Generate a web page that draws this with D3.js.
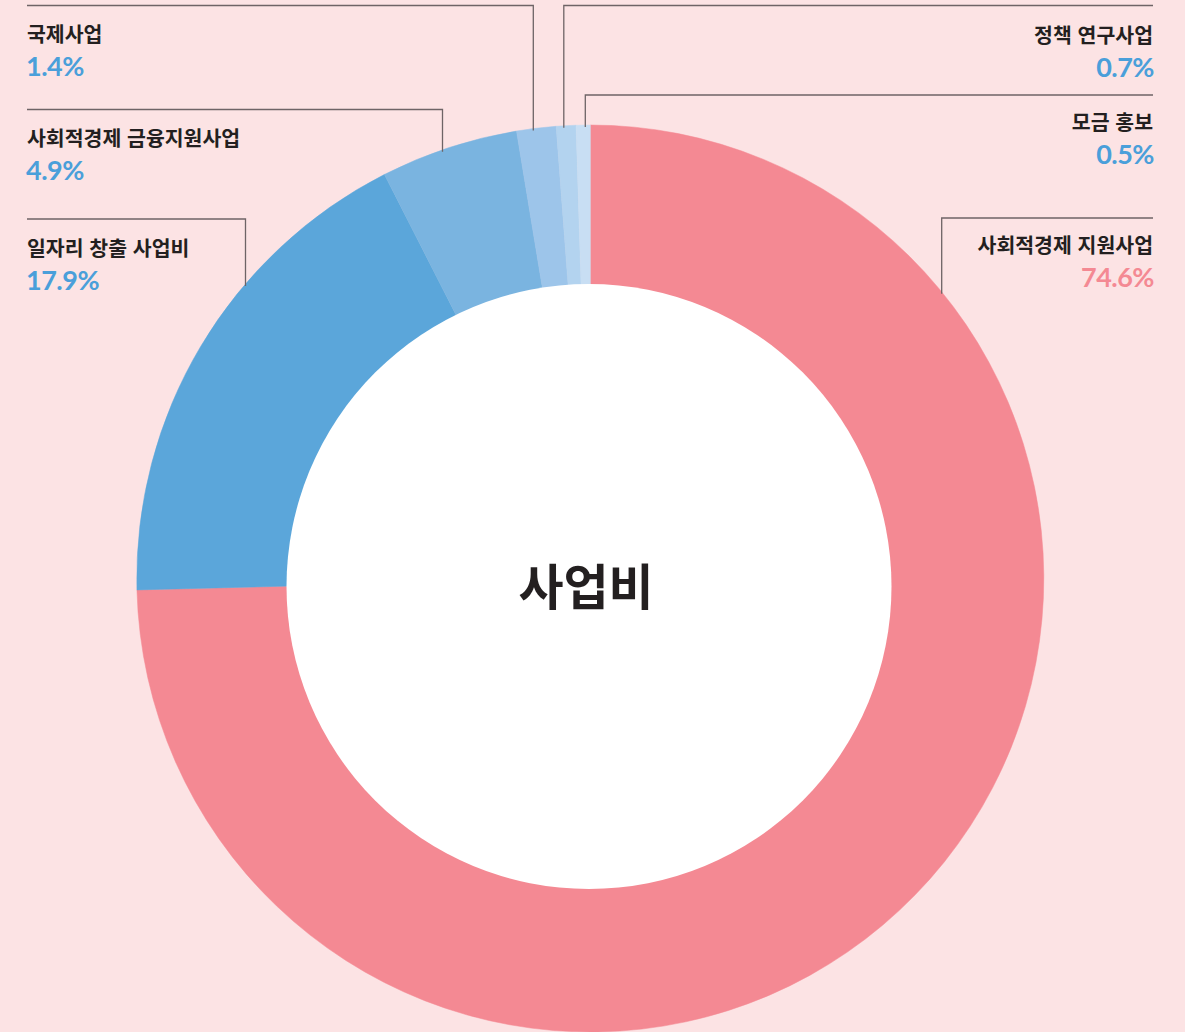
<!DOCTYPE html>
<html lang="ko">
<head>
<meta charset="utf-8">
<script src="https://cdn.jsdelivr.net/npm/d3@7"></script>
<style>
  html, body { margin: 0; padding: 0; background: #FCE3E4; }
  svg { display: block; }
  .name { font-family: "Noto Sans CJK KR", "Noto Sans", sans-serif; font-weight: 700; font-size: 20.5px; fill: #231F20; letter-spacing: 0px; }
  .pct { font-family: Lato, "Open Sans", sans-serif; font-weight: 700; font-size: 27px; letter-spacing: -0.5px; }
  .center { font-family: "Noto Sans CJK KR", sans-serif; font-weight: 700; font-size: 49px; fill: #231F20; }
</style>
</head>
<body>
<svg id="chart" width="1185" height="1032"></svg>
<script>
// 사업비 구성 (%), clockwise from 12 o'clock
const categories = ["사회적경제 지원사업", "일자리 창출 사업비", "사회적경제 금융지원사업", "국제사업", "정책 연구사업", "모금 홍보"];
const values = [74.6, 17.9, 4.9, 1.4, 0.7, 0.5];
const sliceColors = ["#F48993", "#5BA6DA", "#7AB4E0", "#9DC5EA", "#B3D3EF", "#C8DEF3"];
const labelColors = ["#F48993", "#4A9FDA", "#4A9FDA", "#4A9FDA", "#4A9FDA", "#4A9FDA"];
const centerTitle = "사업비";

const W = 1185, H = 1032;
const cx = 590.3, cy = 578.5, rOuter = 453.5;
const hole = { x: 589, y: 586.5, r: 302.5 };

// label placement: side, text x, name baseline, leader y, leader start x, leader corner x
const labelLayout = [
  { anchor: "end",   tx: 1153, ty: 253, ly: 218, lx0: 1153, lx1: 941.7 },
  { anchor: "start", tx: 27,   ty: 256, ly: 219, lx0: 27,   lx1: 245.5 },
  { anchor: "start", tx: 27,   ty: 146, ly: 109.5, lx0: 27, lx1: 442.5 },
  { anchor: "start", tx: 27,   ty: 42,  ly: 5.5, lx0: 27,   lx1: 533.3 },
  { anchor: "end",   tx: 1153, ty: 43,  ly: 5.5, lx0: 1153, lx1: 563.8 },
  { anchor: "end",   tx: 1153, ty: 130, ly: 95, lx0: 1153,  lx1: 585.3 }
];

const svg = d3.select("#chart");
svg.append("rect").attr("width", W).attr("height", H).attr("fill", "#FCE3E4");

const pie = d3.pie().sort(null).value(d => d)(values);
const arc = d3.arc().innerRadius(0).outerRadius(rOuter);

const g = svg.append("g").attr("transform", `translate(${cx},${cy})`);
g.selectAll("path")
  .data(pie)
  .join("path")
  .attr("d", arc)
  .attr("fill", (d, i) => sliceColors[i])
  .attr("stroke", (d, i) => sliceColors[i])
  .attr("stroke-width", 0.5);

// white hole of the donut
svg.append("circle")
  .attr("cx", hole.x).attr("cy", hole.y).attr("r", hole.r)
  .attr("fill", "#FFFFFF");

svg.append("text")
  .attr("class", "center")
  .attr("x", 586).attr("y", 605)
  .attr("text-anchor", "middle")
  .text(centerTitle);

// leader lines: horizontal rule, then down to the outer edge of the ring
const leaders = svg.append("g")
  .attr("fill", "none")
  .attr("stroke", "#6E6466")
  .attr("stroke-width", 1.3);

labelLayout.forEach((L, i) => {
  const dx = L.lx1 - cx;
  const yEdge = cy - Math.sqrt(rOuter * rOuter - dx * dx) + 2;
  leaders.append("path")
    .attr("d", d3.line()([[L.lx0, L.ly], [L.lx1, L.ly], [L.lx1, yEdge]]));

  svg.append("text")
    .attr("class", "name")
    .attr("x", L.tx).attr("y", L.ty)
    .attr("text-anchor", L.anchor)
    .text(categories[i]);

  svg.append("text")
    .attr("class", "pct")
    .attr("x", L.anchor === "start" ? L.tx - 1 : L.tx + 1)
    .attr("y", L.ty + 33.5)
    .attr("text-anchor", L.anchor)
    .attr("fill", labelColors[i])
    .text(values[i].toFixed(1) + "%");
});
</script>
</body>
</html>
